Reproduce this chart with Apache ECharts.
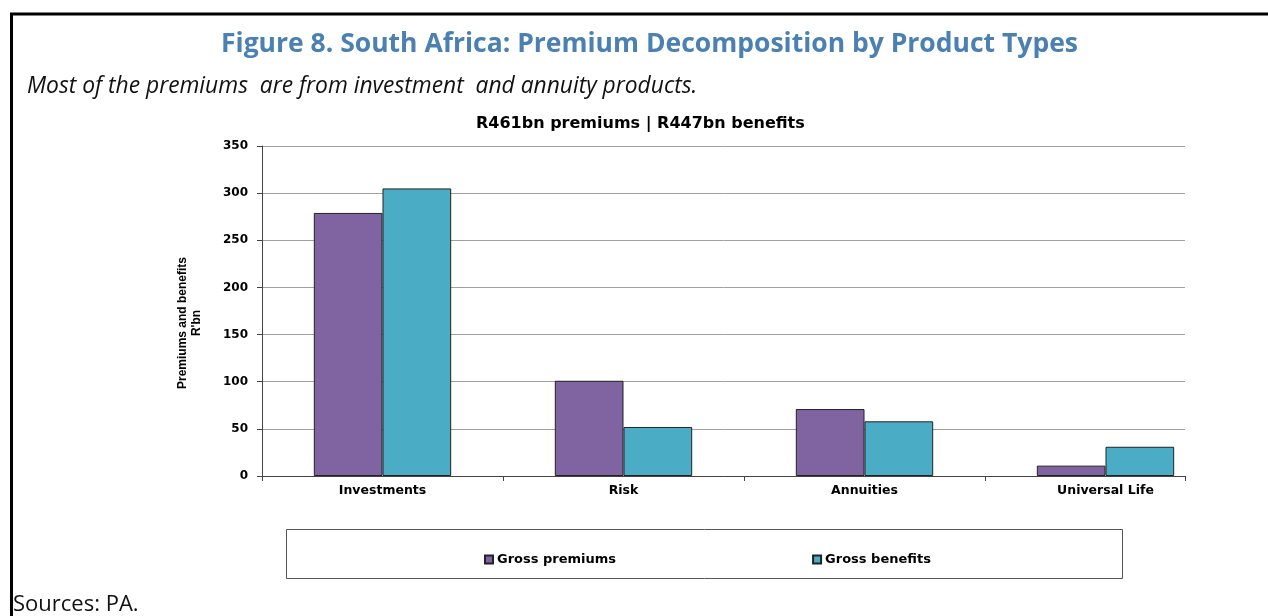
<!DOCTYPE html>
<html>
<head>
<meta charset="utf-8">
<script src="https://cdn.jsdelivr.net/npm/echarts@6/dist/echarts.min.js"></script>
<style>
	html, body { margin: 0; padding: 0; background: #fff; }
	#main { width: 1268px; height: 616px; }
</style>
</head>
<body>
<div id="main"></div>
<script>
var categories = ['Investments', 'Risk', 'Annuities', 'Universal Life'];
var grossPremiums = [279, 101, 71, 11];
var grossBenefits = [305, 52, 58, 31];
var yTicks = { min: 0, max: 350, interval: 50 };

// the plot frame ends before the last category band does
var frameRight = 83, bandRight = 42;
var frameSpan = (1268 - 262 - frameRight) / ((1268 - 262 - bandRight) / categories.length);

var boldAxisFont = {
	fontFamily: 'DejaVu Sans',
	fontWeight: 'bold',
	color: '#000'
};

var option = {
	animation: false,
	backgroundColor: '#fff',
	title: [{
		text: 'Figure 8. South Africa: Premium Decomposition by Product Types',
		left: 216,
		top: 26,
		textStyle: {
			fontFamily: 'Open Sans',
			fontWeight: 'bold',
			fontSize: 26.5,
			color: '#4a80b2'
		}
	}, {
		text: 'Most of the premiums  are from investment  and annuity products.',
		left: 22,
		top: 70,
		textStyle: {
			fontFamily: 'Open Sans',
			fontStyle: 'italic',
			fontWeight: 'normal',
			fontSize: 22.8,
			color: '#111'
		}
	}, {
		text: 'R461bn premiums | R447bn benefits',
		left: 471,
		top: 111,
		textStyle: {
			fontFamily: 'DejaVu Sans',
			fontWeight: 'bold',
			fontSize: 16,
			color: '#000'
		}
	}, {
		text: 'Sources: PA.',
		left: 8,
		top: 589,
		textStyle: {
			fontFamily: 'Open Sans',
			fontWeight: 'normal',
			fontSize: 22,
			color: '#111'
		}
	}],
	legend: {
		left: 479,
		top: 548,
		itemWidth: 8,
		itemHeight: 8,
		itemGap: 196,
		icon: 'rect',
		textStyle: {
			fontFamily: 'DejaVu Sans',
			fontWeight: 'bold',
			fontSize: 13,
			color: '#000',
			padding: [0, 0, 0, -1]
		},
		data: ['Gross premiums', 'Gross benefits']
	},
	grid: [{
		left: 262,
		right: frameRight,
		top: 146,
		bottom: 140
	}, {
		left: 262,
		right: bandRight,
		top: 146,
		bottom: 140
	}],
	xAxis: [{
		gridIndex: 0,
		type: 'value',
		min: 0,
		max: frameSpan,
		interval: 1,
		axisLine: { show: true, lineStyle: { color: '#444', width: 1 } },
		axisTick: { show: true, length: 5, lineStyle: { color: '#444' } },
		axisLabel: { show: false },
		splitLine: { show: false }
	}, {
		gridIndex: 1,
		type: 'category',
		data: categories,
		axisLine: { show: false },
		axisTick: { show: false },
		axisLabel: Object.assign({ margin: 8, fontSize: 12.5 }, boldAxisFont)
	}],
	yAxis: [{
		gridIndex: 0,
		type: 'value',
		min: yTicks.min,
		max: yTicks.max,
		interval: yTicks.interval,
		axisLine: { show: true, lineStyle: { color: '#444', width: 1 } },
		axisTick: { show: true, length: 5, lineStyle: { color: '#444' } },
		axisLabel: Object.assign({ margin: 14, fontSize: 12 }, boldAxisFont),
		splitLine: { lineStyle: { color: '#a0a0a0', width: 1 } }
	}, {
		gridIndex: 1,
		type: 'value',
		min: yTicks.min,
		max: yTicks.max,
		interval: yTicks.interval,
		show: false,
		splitLine: { show: false }
	}],
	series: [{
		name: 'Gross premiums',
		type: 'bar',
		xAxisIndex: 1,
		yAxisIndex: 1,
		data: grossPremiums,
		barGap: '0%',
		barCategoryGap: '43%',
		itemStyle: { color: '#8064a2', borderColor: '#222', borderWidth: 1 }
	}, {
		name: 'Gross benefits',
		type: 'bar',
		xAxisIndex: 1,
		yAxisIndex: 1,
		data: grossBenefits,
		barGap: '0%',
		barCategoryGap: '43%',
		itemStyle: { color: '#4bacc6', borderColor: '#222', borderWidth: 1 }
	}],
	graphic: [{
		type: 'text',
		x: 190,
		y: 323,
		rotation: Math.PI / 2,
		style: {
			text: "Premiums and benefits\nR'bn",
			font: 'bold 12px "Liberation Sans"',
			lineHeight: 14,
			fill: '#000',
			align: 'center',
			verticalAlign: 'middle'
		}
	}, {
		type: 'line',
		shape: { x1: 10, y1: 14, x2: 1268, y2: 14 },
		style: { stroke: '#000', lineWidth: 3 }
	}, {
		type: 'line',
		shape: { x1: 11.5, y1: 13, x2: 11.5, y2: 616 },
		style: { stroke: '#000', lineWidth: 3 }
	}, {
		type: 'rect',
		shape: { x: 286.5, y: 529.5, width: 836, height: 49 },
		style: { fill: 'none', stroke: '#555', lineWidth: 1 }
	}]
};

var my = echarts.init(document.getElementById('main'));
my.setOption(option);
</script>
</body>
</html>
